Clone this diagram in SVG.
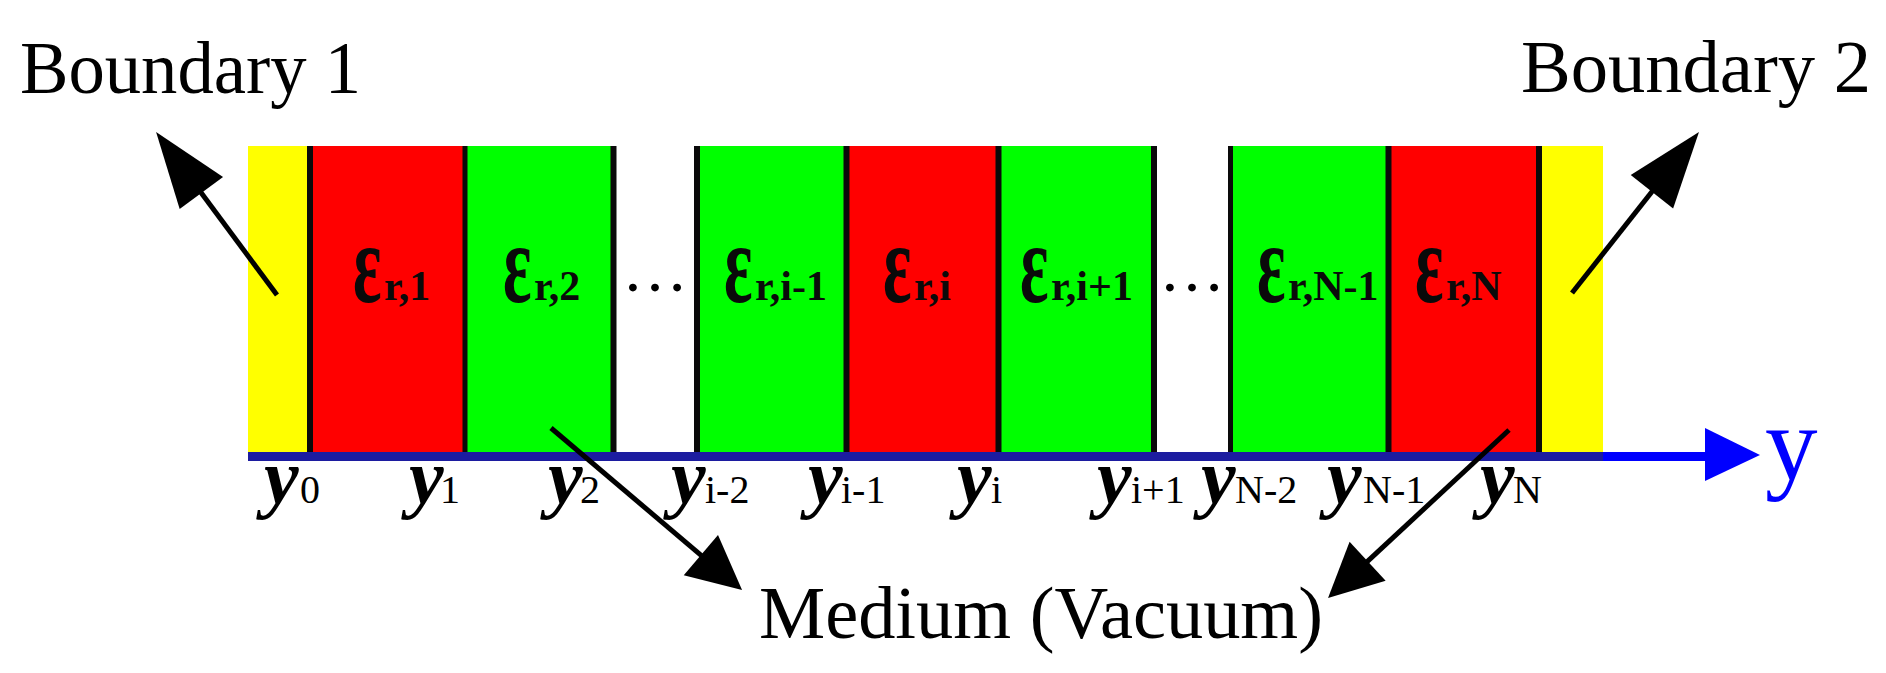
<svg xmlns="http://www.w3.org/2000/svg" width="1886" height="673" viewBox="0 0 1886 673">
<style>
.yel{fill:#ffff00}
.red{fill:#ff0000}
.grn{fill:#00ff00}
.sep{fill:#0a0a0a}
.lbl{font-family:"Liberation Serif","Times New Roman",serif;fill:#000}
.big{font-size:73px}
.eps{font-size:115px;font-weight:bold;fill:#0a0a0a}
.esub{font-size:42px;font-weight:bold;fill:#0a0a0a}
.yv{font-size:78px;font-weight:bold;font-style:italic}
.ysub{font-size:40px;font-weight:normal;font-style:normal}
.dots{font-size:66px}
.conn{stroke:#000;stroke-width:5;fill:none}
</style>
<defs>
<marker id="headLong" markerUnits="userSpaceOnUse" markerWidth="76" markerHeight="54" refX="56" refY="27" orient="auto" overflow="visible">
<path d="M0,0 L76,27 L0,54 z" fill="#000"/>
</marker>
<marker id="headShort" markerUnits="userSpaceOnUse" markerWidth="54" markerHeight="53" refX="34" refY="26.5" orient="auto" overflow="visible">
<path d="M0,0 L54,26.5 L0,53 z" fill="#000"/>
</marker>
</defs>
<rect width="1886" height="673" fill="#fff"/>

<g id="boundary1">
<rect class="yel" x="248" y="146" width="62" height="306"/>
</g>
<g id="layer1">
<rect class="red" x="310" y="146" width="155" height="306"/>
<text class="lbl eps" transform="translate(353,302) scale(0.58,1)">ε</text>
<text class="lbl esub" x="384" y="300">r,1</text>
</g>
<g id="layer2">
<rect class="grn" x="465" y="146" width="148" height="306"/>
<text class="lbl eps" transform="translate(503,302) scale(0.58,1)">ε</text>
<text class="lbl esub" x="534" y="300">r,2</text>
</g>
<g id="dots1">
<text class="lbl dots" x="622" y="291">…</text>
</g>
<g id="layerIm1">
<rect class="grn" x="697" y="146" width="149" height="306"/>
<text class="lbl eps" transform="translate(724,302) scale(0.58,1)">ε</text>
<text class="lbl esub" x="755" y="300">r,i-1</text>
</g>
<g id="layerI">
<rect class="red" x="846" y="146" width="152" height="306"/>
<text class="lbl eps" transform="translate(883,302) scale(0.58,1)">ε</text>
<text class="lbl esub" x="914" y="300">r,i</text>
</g>
<g id="layerIp1">
<rect class="grn" x="998" y="146" width="156" height="306"/>
<text class="lbl eps" transform="translate(1020,302) scale(0.58,1)">ε</text>
<text class="lbl esub" x="1051" y="300">r,i+1</text>
</g>
<g id="dots2">
<text class="lbl dots" x="1159" y="291">…</text>
</g>
<g id="layerNm1">
<rect class="grn" x="1230" y="146" width="158" height="306"/>
<text class="lbl eps" transform="translate(1257,302) scale(0.58,1)">ε</text>
<text class="lbl esub" x="1288" y="300">r,N-1</text>
</g>
<g id="layerN">
<rect class="red" x="1388" y="146" width="151" height="306"/>
<text class="lbl eps" transform="translate(1415,302) scale(0.58,1)">ε</text>
<text class="lbl esub" x="1446" y="300">r,N</text>
</g>
<g id="boundary2">
<rect class="yel" x="1539" y="146" width="64" height="306"/>
</g>

<g id="separators">
<rect class="sep" x="307" y="146" width="6" height="306"/>
<rect class="sep" x="462.5" y="146" width="5" height="306"/>
<rect class="sep" x="610.5" y="146" width="6" height="306"/>
<rect class="sep" x="694" y="146" width="6" height="306"/>
<rect class="sep" x="843.5" y="146" width="6" height="306"/>
<rect class="sep" x="995.5" y="146" width="6" height="306"/>
<rect class="sep" x="1151" y="146" width="6" height="306"/>
<rect class="sep" x="1228" y="146" width="5" height="306"/>
<rect class="sep" x="1385.5" y="146" width="6" height="306"/>
<rect class="sep" x="1536" y="146" width="6" height="306"/>
</g>

<g id="axis">
<rect x="248" y="452" width="1355" height="9" fill="#1c1ca0"/>
<rect x="1603" y="452" width="108" height="9" fill="#0000ff"/>
<polygon points="1705,428 1760,455 1705,481" fill="#0000ff"/>
<text class="lbl" x="1765" y="479" style="font-size:105px;fill:#0000ff">y</text>
</g>

<g id="axis-labels">
<text class="lbl yv" x="264" y="503">y<tspan class="ysub" x="300">0</tspan></text>
<text class="lbl yv" x="409" y="503">y<tspan class="ysub" x="440">1</tspan></text>
<text class="lbl yv" x="548" y="503">y<tspan class="ysub" x="580">2</tspan></text>
<text class="lbl yv" x="671" y="503">y<tspan class="ysub" x="705">i-2</tspan></text>
<text class="lbl yv" x="808" y="503">y<tspan class="ysub" x="841">i-1</tspan></text>
<text class="lbl yv" x="957" y="503">y<tspan class="ysub" x="991">i</tspan></text>
<text class="lbl yv" x="1097" y="503">y<tspan class="ysub" x="1131">i+1</tspan></text>
<text class="lbl yv" x="1201" y="503">y<tspan class="ysub" x="1235">N-2</tspan></text>
<text class="lbl yv" x="1327" y="503">y<tspan class="ysub" x="1363">N-1</tspan></text>
<text class="lbl yv" x="1480" y="503">y<tspan class="ysub" x="1513">N</tspan></text>
</g>

<g id="label-boundary1">
<text class="lbl big" x="20" y="93" textLength="341" lengthAdjust="spacingAndGlyphs">Boundary 1</text>
</g>
<g id="label-boundary2">
<text class="lbl big" x="1521" y="92" textLength="350" lengthAdjust="spacingAndGlyphs">Boundary 2</text>
</g>
<g id="label-medium">
<text class="lbl big" x="759" y="638" textLength="564" lengthAdjust="spacingAndGlyphs">Medium (Vacuum)</text>
</g>

<g id="connectors">
<line class="conn" x1="277" y1="295" x2="168" y2="148" marker-end="url(#headLong)"/>
<line class="conn" x1="1572" y1="293" x2="1686.6" y2="147.7" marker-end="url(#headLong)"/>
<line class="conn" x1="551" y1="428" x2="726.8" y2="577.1" marker-end="url(#headShort)"/>
<line class="conn" x1="1509" y1="430" x2="1342.7" y2="584.4" marker-end="url(#headShort)"/>
</g>
</svg>
